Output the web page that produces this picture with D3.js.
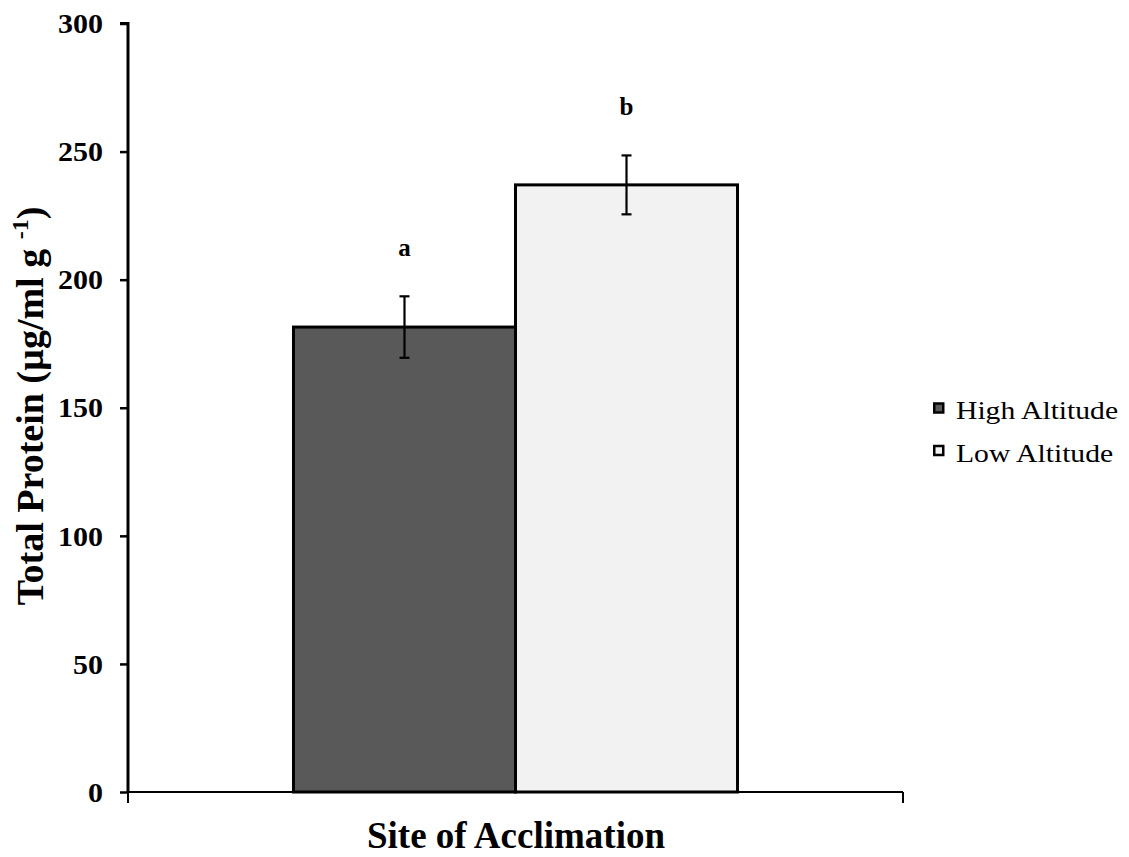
<!DOCTYPE html>
<html><head><meta charset="utf-8">
<script src="https://cdn.jsdelivr.net/npm/d3@7"></script>
</head><body style="margin:0;background:#fff">
<svg id="c" width="1129" height="857"></svg>
<script>
const categories = ["Site of Acclimation"];
const series = ["High Altitude", "Low Altitude"];
const means = [181.5, 237];
const errors = [12, 11.5];
const letters = ["a", "b"];
const yTicks = [0, 50, 100, 150, 200, 250, 300];
const colors = ["#595959", "#f2f2f2"];

const FONT = "Liberation Serif";
const svg = d3.select("#c").style("font-family", FONT);
const pLeft = 128, pRight = 903, pTop = 23.5, pBottom = 792;
const y = d3.scaleLinear().domain([0, 300]).range([pBottom, pTop]);
const x0 = d3.scaleBand().domain(categories).range([pLeft, pRight]).paddingInner(0).paddingOuter(0.3727);
const x1 = d3.scaleBand().domain(series).range([0, x0.bandwidth()]);

// y axis
const ya = svg.append("g").attr("transform", `translate(${pLeft},0)`)
  .call(d3.axisLeft(y).tickValues(yTicks).tickSize(8).tickPadding(17));
ya.attr("font-family", FONT).attr("font-size", 27);
ya.select(".domain").attr("stroke", "#000").attr("stroke-width", 3).attr("d", `M-8,${pTop}H0V${pBottom}`);
ya.selectAll(".tick line").attr("stroke", "#000").attr("stroke-width", 2.5);
ya.selectAll(".tick text").style("font-family", FONT).style("font-size", "27px").style("font-weight", "bold")
  .attr("fill", "#000").attr("x", 0).attr("dy", "0.34em").attr("transform", "translate(-25,0) scale(1.11,1)");

// x axis
const xa = svg.append("g").attr("transform", `translate(0,${pBottom})`);
xa.append("line").attr("x1", pLeft).attr("x2", pRight).attr("y1", 0).attr("y2", 0).attr("stroke", "#000").attr("stroke-width", 2);
[pLeft, pRight].forEach(px => xa.append("line").attr("x1", px).attr("x2", px).attr("y1", 0).attr("y2", 11).attr("stroke", "#000").attr("stroke-width", 2));

// bars
const g = svg.append("g").attr("transform", `translate(${x0(categories[0])},0)`);
series.forEach((s, i) => {
  g.append("rect").attr("x", x1(s)).attr("y", y(means[i])).attr("width", x1.bandwidth()).attr("height", y(0) - y(means[i]))
    .attr("fill", colors[i]).attr("stroke", "#000").attr("stroke-width", 3);
});
series.forEach((s, i) => {
  const cx = x1(s) + x1.bandwidth() / 2;
  const hi = y(means[i] + errors[i]), lo = y(means[i] - errors[i]);
  g.append("line").attr("x1", cx).attr("x2", cx).attr("y1", hi).attr("y2", lo).attr("stroke", "#000").attr("stroke-width", 2.2);
  [hi, lo].forEach(yy => g.append("line").attr("x1", cx - 5).attr("x2", cx + 5).attr("y1", yy).attr("y2", yy).attr("stroke", "#000").attr("stroke-width", 2.2));
  g.append("text").attr("x", cx).attr("y", hi - 40).attr("text-anchor", "middle")
    .style("font-family", FONT).style("font-size", "25px").style("font-weight", "bold").text(letters[i]);
});

// axis titles
svg.append("text").attr("x", 516).attr("y", 848).attr("text-anchor", "middle")
  .style("font-family", FONT).style("font-size", "37px").style("font-weight", "bold").text(categories[0]);
const yt = svg.append("text").attr("transform", "translate(43,406) rotate(-90)").attr("text-anchor", "middle")
  .style("font-family", FONT).style("font-size", "38px").style("font-weight", "bold");
yt.append("tspan").text("Total Protein (µg/ml g ");
yt.append("tspan").style("font-size", "24px").attr("dy", -15).text("-1");
yt.append("tspan").attr("dy", 15).text(")");

// legend
const lg = svg.append("g").attr("transform", "translate(933,0)");
series.forEach((s, i) => {
  const yy = 403.5 + i * 42.5;
  lg.append("rect").attr("x", 1.25).attr("y", yy).attr("width", 9).attr("height", 9).attr("fill", colors[i]).attr("stroke", "#000").attr("stroke-width", 2.5);
  lg.append("text").attr("x", 0).attr("y", 0).attr("transform", `translate(23,${yy + 15.5}) scale(1.14,1)`)
    .style("font-family", FONT).style("font-size", "26px").text(s);
});
</script>
</body></html>
